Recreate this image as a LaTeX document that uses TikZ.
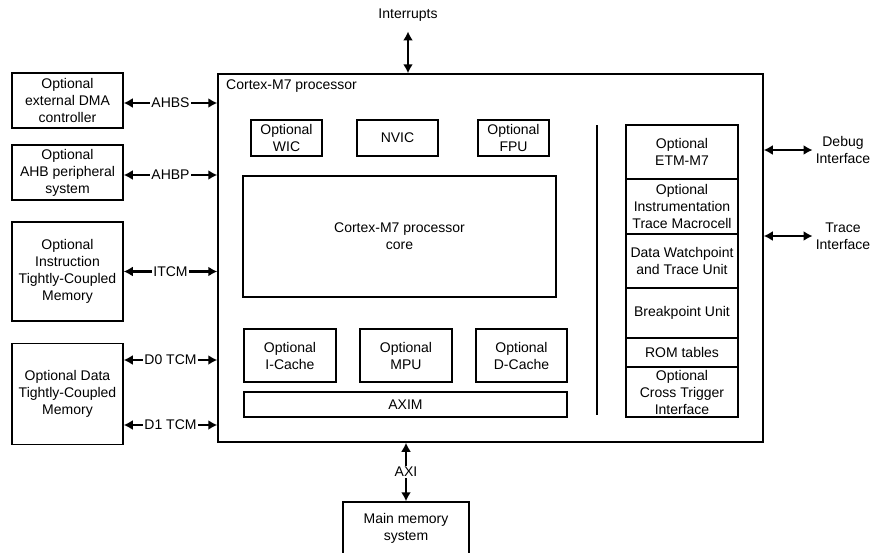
\documentclass[tikz,border=0pt]{standalone}
\usepackage{fontspec}
\setmainfont{Liberation Sans}
\usetikzlibrary{arrows.meta,calc}
\newcommand\diafont{\fontsize{14}{17}\selectfont}
\begin{document}
\begin{tikzpicture}[x=1pt,y=-1pt,
  box/.style={draw,line width=1.5pt,align=center,inner sep=0pt,font=\diafont},
  biarrow/.style={{Latex[length=9pt,width=10pt]}-{Latex[length=9pt,width=10pt]},line width=2.2pt},
  lbl/.style={fill=white,inner sep=1pt,font=\diafont},
  txt/.style={align=center,inner sep=3pt,font=\diafont}]
\useasboundingbox (0,0) rectangle (875,552);
% processor frame
\node[draw,line width=1.5pt,minimum width=545pt,minimum height=368pt,inner sep=0pt] (proc) at (490.5,258) {};
\node[txt,anchor=west] (proclbl) at (223,86) {Cortex-M7 processor};
% left boxes
\node[box,minimum width=111pt,minimum height=55pt] (dma) at (67.5,100.5) {Optional\\external DMA\\controller};
\node[box,minimum width=111pt,minimum height=55pt] (ahb) at (67.5,172.5) {Optional\\AHB peripheral\\system};
\node[box,minimum width=111pt,minimum height=99pt] (itcm) at (67.5,271.5) {Optional\\Instruction\\Tightly-Coupled\\Memory};
\node[box,minimum width=111pt,minimum height=101pt] (dtcm) at (67.5,394) {Optional Data\\Tightly-Coupled\\Memory};
\coordinate (d0) at ([yshift=34pt]dtcm.east);
\coordinate (d1) at ([yshift=-31pt]dtcm.east);
\draw[biarrow] ([yshift=-2.5pt]dma.east) -- ([yshift=-2.5pt]dma.east -| proc.west) node[midway,lbl] {AHBS};
\draw[biarrow] ([yshift=-2.5pt]ahb.east) -- ([yshift=-2.5pt]ahb.east -| proc.west) node[midway,lbl] {AHBP};
\draw[biarrow] (itcm.east) -- (itcm.east -| proc.west) node[midway,lbl] {ITCM};
\draw[biarrow] (d0) -- (d0 -| proc.west) node[midway,lbl] {D0 TCM};
\draw[biarrow] (d1) -- (d1 -| proc.west) node[midway,lbl] {D1 TCM};
% interrupts
\node[txt] (intr) at (408,15) {Interrupts};
\draw[biarrow] ([yshift=-7pt]intr.south) -- (intr.south |- proc.north);
% inner blocks
\node[box,minimum width=71pt,minimum height=36pt] (wic) at (286.5,138) {Optional\\WIC};
\node[box,minimum width=81pt,minimum height=36pt] (nvic) at (397.5,138) {NVIC};
\node[box,minimum width=71pt,minimum height=36pt] (fpu) at (513.5,138) {Optional\\FPU};
\node[box,minimum width=313pt,minimum height=121pt] (core) at (399.5,236.5) {Cortex-M7 processor\\core};
\node[box,minimum width=92pt,minimum height=53pt] (icache) at (290,355.5) {Optional\\I-Cache};
\node[box,minimum width=92pt,minimum height=53pt] (mpu) at (406,355.5) {Optional\\MPU};
\node[box,minimum width=91pt,minimum height=53pt] (dcache) at (521.5,355.5) {Optional\\D-Cache};
\node[box,minimum width=323pt,minimum height=25pt] (axim) at (405.5,404.5) {AXIM};
% separator
\coordinate (septop) at (597,125);
\coordinate (sepbot) at (597,415);
\draw[line width=1.5pt] (septop) -- (sepbot);
% debug stack
\node[box,minimum width=112pt,minimum height=54pt] (etm) at (682,152) {Optional\\ETM-M7};
\node[box,minimum width=112pt,minimum height=55pt] (itm) at (682,206.5) {Optional\\Instrumentation\\Trace Macrocell};
\node[box,minimum width=112pt,minimum height=54pt] (dwt) at (682,261) {Data Watchpoint\\and Trace Unit};
\node[box,minimum width=112pt,minimum height=50pt] (bpu) at (682,313) {Breakpoint Unit};
\node[box,minimum width=112pt,minimum height=29pt] (rom) at (682,352.5) {ROM tables};
\node[box,minimum width=112pt,minimum height=50pt] (cti) at (682,392) {Optional\\Cross Trigger\\Interface};
% right interfaces
\node[txt] (dbg) at (843,150) {Debug\\Interface};
\node[txt] (trc) at (843,236) {Trace\\Interface};
\draw[biarrow] (proc.east |- dbg) -- (dbg.west);
\draw[biarrow] (proc.east |- trc) -- (trc.west);
% main memory
\node[box,minimum width=126pt,minimum height=52pt] (mem) at (406,528) {Main memory\\system};
\draw[biarrow] (mem.north |- proc.south) -- (mem.north) node[midway,lbl] {AXI};
\end{tikzpicture}
\end{document}
